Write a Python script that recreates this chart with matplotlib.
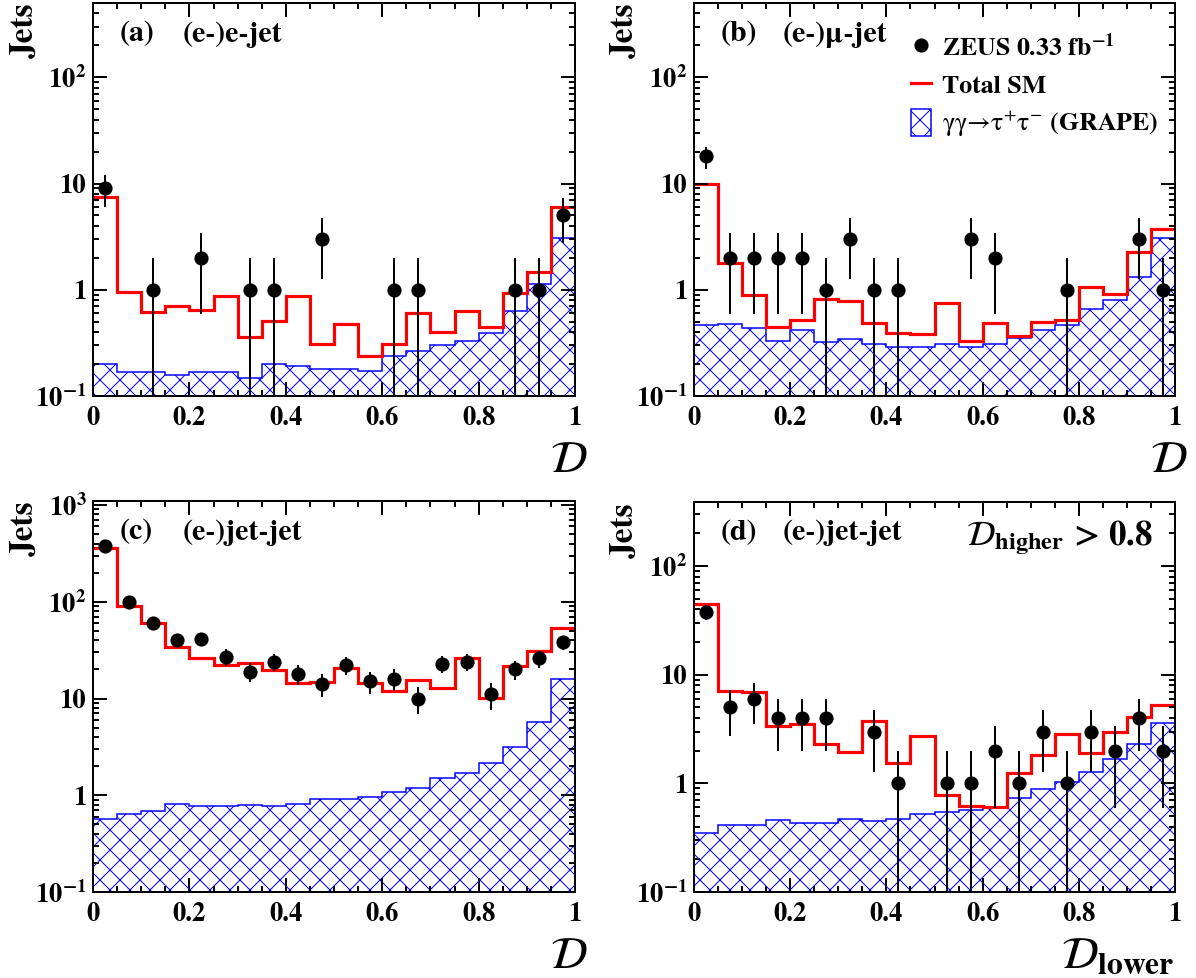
import numpy as np
import matplotlib
matplotlib.use("Agg")
import matplotlib.pyplot as plt
from matplotlib.lines import Line2D
from matplotlib.patches import Patch
from matplotlib.ticker import FixedLocator, FixedFormatter, MultipleLocator, LogLocator, NullFormatter

# bin edges of the discriminant D (20 bins)
edges = np.linspace(0, 1, 21)

# (a) (e-)e-jet
data_a = [9, 0, 1, 0, 2, 0, 1, 1, 0, 3, 0, 0, 1, 1, 0, 0, 0, 1, 1, 5]
err_a = [3, 0, 1, 0, 1.41, 0, 1, 1, 0, 1.73, 0, 0, 1, 1, 0, 0, 0, 1, 1, 2.24]
sm_a = [7.4, 0.96, 0.62, 0.70, 0.65, 0.88, 0.36, 0.51, 0.88, 0.31,
        0.48, 0.24, 0.31, 0.61, 0.40, 0.63, 0.45, 0.93, 1.46, 6.0]
tau_a = [0.20, 0.17, 0.17, 0.156, 0.167, 0.167, 0.149, 0.20, 0.193, 0.18,
         0.18, 0.172, 0.237, 0.268, 0.30, 0.33, 0.39, 0.63, 1.14, 3.1]

# (b) (e-)mu-jet
data_b = [18, 2, 2, 2, 2, 1, 3, 1, 1, 0, 0, 3, 2, 0, 0, 1, 0, 0, 3, 1]
err_b = [4.24, 1.41, 1.41, 1.41, 1.41, 1, 1.73, 1, 1, 0, 0, 1.73, 1.41, 0, 0, 1, 0, 0, 1.73, 1]
sm_b = [10.0, 1.80, 0.90, 0.45, 0.52, 0.82, 0.78, 0.49, 0.39, 0.38,
        0.75, 0.33, 0.49, 0.37, 0.50, 0.52, 1.07, 0.91, 2.25, 3.7]
tau_b = [0.47, 0.475, 0.44, 0.33, 0.42, 0.32, 0.345, 0.31, 0.29, 0.29,
         0.31, 0.29, 0.31, 0.355, 0.42, 0.47, 0.66, 0.80, 1.31, 3.1]

# (c) (e-)jet-jet
data_c = [380, 100, 60, 40, 41, 27, 19, 24, 18, 14, 22, 15, 16, 10, 23, 24, 11, 20, 26, 38]
err_c = [19.5, 10, 7.75, 6.3, 6.4, 5.2, 4.36, 4.9, 4.24, 3.74,
         4.69, 3.87, 4, 3.16, 4.8, 4.9, 3.32, 4.47, 5.1, 6.16]
sm_c = [363, 91, 61, 34, 26, 22.4, 23.5, 19.7, 14.4, 14.9,
        20.6, 14.4, 12.0, 15.6, 12.8, 26.4, 10.1, 21.8, 30.7, 53.7]
tau_c = [0.57, 0.645, 0.68, 0.81, 0.77, 0.78, 0.80, 0.77, 0.82, 0.91,
         0.92, 0.97, 1.09, 1.19, 1.49, 1.71, 2.15, 3.17, 5.68, 15.9]

# (d) (e-)jet-jet, D_higher > 0.8
data_d = [38, 5, 6, 4, 4, 4, 0, 3, 1, 0, 1, 1, 2, 1, 3, 1, 3, 2, 4, 2]
err_d = [6.16, 2.24, 2.45, 2, 2, 2, 0, 1.73, 1, 0, 1, 1, 1.41, 1, 1.73, 1, 1.73, 1.41, 2, 1.41]
sm_d = [44.9, 7.1, 7.0, 3.4, 3.5, 2.3, 1.96, 3.76, 1.55, 2.73,
        0.79, 0.62, 0.61, 1.25, 1.81, 2.87, 1.92, 2.96, 4.1, 5.3]
tau_d = [0.35, 0.415, 0.41, 0.46, 0.436, 0.436, 0.47, 0.45, 0.47, 0.52,
         0.54, 0.57, 0.60, 0.74, 0.89, 1.04, 1.26, 1.68, 2.31, 3.63]

plt.rcParams["font.family"] = "STIXGeneral"
plt.rcParams["mathtext.fontset"] = "stix"
plt.rcParams["hatch.linewidth"] = 0.6
plt.rcParams["hatch.color"] = "blue"
plt.rcParams["axes.linewidth"] = 1.2

DPI = 120
W, H = 1196, 978
fig = plt.figure(figsize=(W / DPI, H / DPI), dpi=DPI)


def px_axes(left, top, right, bottom):
    return fig.add_axes([left / W, 1 - bottom / H, (right - left) / W, (bottom - top) / H])


def draw_panel(ax, data, err, sm, tau, ymax, tag, channel):
    data = np.array(data, dtype=float)
    err = np.array(err, dtype=float)
    centers = 0.5 * (edges[:-1] + edges[1:])
    ax.set_yscale("log", nonpositive="clip")
    ax.stairs(tau, edges, baseline=1e-4, fill=True, facecolor="none",
              edgecolor="blue", hatch="xx", linewidth=0.9)
    ax.stairs(sm, edges, baseline=None, color="red", linewidth=1.9)
    m = data > 0
    ax.errorbar(centers[m], data[m], yerr=err[m], fmt="o", color="black",
                markersize=7.5, elinewidth=1.2, capsize=0)
    ax.set_xlim(0, 1)
    ax.set_ylim(0.1, ymax)

    ax.xaxis.set_major_locator(FixedLocator([0, 0.2, 0.4, 0.6, 0.8, 1.0]))
    ax.xaxis.set_major_formatter(FixedFormatter(["0", "0.2", "0.4", "0.6", "0.8", "1"]))
    ax.xaxis.set_minor_locator(MultipleLocator(0.05))
    yt = [0.1, 1, 10, 100, 1000]
    ax.yaxis.set_major_locator(FixedLocator(yt))
    ax.yaxis.set_major_formatter(FixedFormatter(
        [r"$\mathbf{10^{-1}}$", "1", "10", r"$\mathbf{10^{2}}$", r"$\mathbf{10^{3}}$"]))
    ax.yaxis.set_minor_locator(LogLocator(base=10, subs=range(2, 10)))
    ax.yaxis.set_minor_formatter(NullFormatter())
    ax.tick_params(which="both", direction="in", top=True, right=True, width=1.2,
                   labelsize=16)
    ax.tick_params(which="major", length=8.4)
    ax.tick_params(which="minor", length=3.6)
    ax.tick_params(axis="x", pad=6)
    ax.tick_params(axis="y", pad=4)
    for lab in ax.get_xticklabels() + ax.get_yticklabels():
        lab.set_fontweight("bold")

    ax.text(0.056, 0.92, tag, transform=ax.transAxes, fontsize=18, va="center",
            ha="left", fontweight="bold")
    ax.text(0.185, 0.92, channel, transform=ax.transAxes, fontsize=18, va="center",
            ha="left", fontweight="bold")


ax_a = px_axes(93, 3, 575, 396)
ax_b = px_axes(694, 3, 1175, 396)
ax_c = px_axes(93, 501, 575, 892)
ax_d = px_axes(694, 502, 1175, 892)

draw_panel(ax_a, data_a, err_a, sm_a, tau_a, 500, "(a)", "(e-)e-jet")
draw_panel(ax_b, data_b, err_b, sm_b, tau_b, 500, "(b)", "(e-)μ-jet")
draw_panel(ax_c, data_c, err_c, sm_c, tau_c, 1100, "(c)", "(e-)jet-jet")
draw_panel(ax_d, data_d, err_d, sm_d, tau_d, 390, "(d)", "(e-)jet-jet")

# y titles
for x, y in [(25, 3), (625, 3), (25, 501), (625, 502)]:
    fig.text(x / W, 1 - y / H, "Jets", rotation=90, ha="center", va="top",
             fontsize=20, fontweight="bold")

# x titles
for ax in (ax_a, ax_b, ax_c):
    ax.annotate(r"$\mathcal{D}$", xy=(1, 0), xycoords="axes fraction",
                xytext=(-4, -39), textcoords="offset points",
                ha="center", va="center", fontsize=27)
ax_d.annotate(r"$\mathcal{D}_{\mathbf{lower}}$", xy=(1, 0), xycoords="axes fraction",
              xytext=(0, -39), textcoords="offset points",
              ha="right", va="center", fontsize=27)

ax_d.text(0.954, 0.89, r"$\mathcal{D}_{\mathbf{higher}}$ > 0.8", transform=ax_d.transAxes,
          ha="right", va="baseline", fontsize=21, fontweight="bold")

# legend in panel (b)
handles = [
    Line2D([], [], marker="o", color="black", ls="none", markersize=7.5),
    Line2D([], [], color="red", linewidth=1.9),
    Patch(facecolor="white", edgecolor="blue", hatch="xx", linewidth=0.9),
]
labels = [r"ZEUS 0.33 fb$^{\mathbf{-1}}$", "Total SM", r"$\mathrm{γγ→τ^{+}τ^{-}}$ (GRAPE)"]
ax_b.legend(handles, labels, loc="upper left", bbox_to_anchor=(0.43, 0.95),
            frameon=False, handlelength=0.75, handleheight=1.2,
            handletextpad=0.45, labelspacing=0.42, borderaxespad=0,
            prop={"size": 15.5, "weight": "bold"})

fig.savefig("out.png", dpi=DPI)
